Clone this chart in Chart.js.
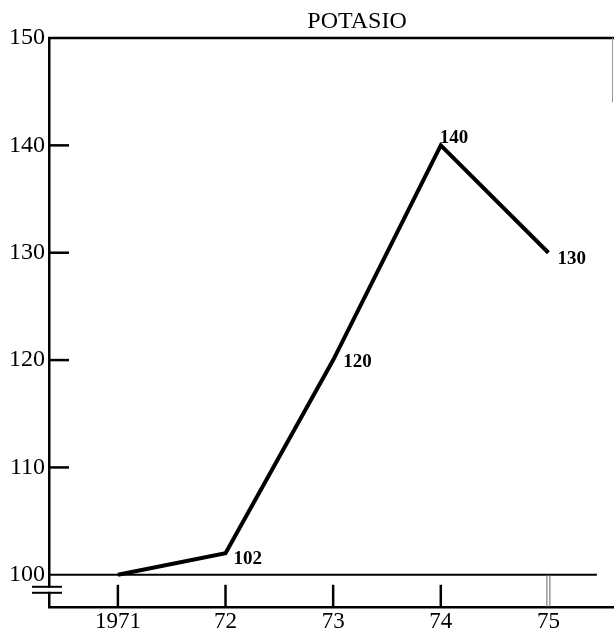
<!DOCTYPE html>
<html><head><meta charset="utf-8">
<script src="https://cdn.jsdelivr.net/npm/chart.js@4/dist/chart.umd.min.js"></script>
<style>html,body{margin:0;padding:0;background:#fff;}canvas{display:block;}</style>
</head><body>
<canvas id="c" width="614" height="634"></canvas>
<script>
const chartTitle = 'POTASIO';
const years = [1971, 1972, 1973, 1974, 1975];
const yearLabels = ['1971', '72', '73', '74', '75'];
const values = [100, 102, 120, 140, 130];
const showValueLabel = [false, true, true, true, true];
const yTickValues = [100, 110, 120, 130, 140, 150];

const SERIF = '"Liberation Serif", "Times New Roman", serif';
// label placement relative to each point (pixels)
const labelOffsets = [[0, 0], [8, 6], [10, 2], [-1, -7], [9, 6]];

function seg(ctx, x1, y1, x2, y2, w, col) {
  ctx.beginPath();
  ctx.lineWidth = w;
  ctx.strokeStyle = col || '#000';
  ctx.moveTo(x1, y1);
  ctx.lineTo(x2, y2);
  ctx.stroke();
}

const deco = {
  id: 'deco',
  beforeDatasetsDraw(chart) {
    const ctx = chart.ctx, a = chart.chartArea, xs = chart.scales.x, ys = chart.scales.y;
    ctx.save();
    ctx.lineCap = 'butt';
    seg(ctx, a.left - 1, a.top, a.right + 1, a.top, 2.5);
    seg(ctx, a.right - 0.5, a.top, a.right - 0.5, ys.getPixelForValue(144), 1, '#999');
    const y100 = ys.getPixelForValue(100);
    seg(ctx, a.left, y100, xs.getPixelForValue(1975.45), y100, 2);
    yTickValues.slice(1, -1).forEach(v => {
      const py = ys.getPixelForValue(v);
      seg(ctx, a.left, py, a.left + 20, py, 2.5);
    });
    years.forEach((yr, i) => {
      const px = xs.getPixelForValue(yr);
      if (i < years.length - 1) {
        seg(ctx, px, y100 + 10, px, a.bottom, 2.5);
      } else {
        seg(ctx, px - 1.5, y100, px - 1.5, a.bottom, 1, '#666');
        seg(ctx, px + 1.5, y100, px + 1.5, a.bottom, 1, '#666');
      }
    });
    ctx.fillStyle = '#fff';
    ctx.fillRect(a.left - 3, y100 + 13, 6, 4);
    seg(ctx, a.left - 17, y100 + 12, a.left + 13, y100 + 12, 2);
    seg(ctx, a.left - 17, y100 + 18, a.left + 13, y100 + 18, 2);
    ctx.restore();
  },
  afterDatasetsDraw(chart) {
    const ctx = chart.ctx, a = chart.chartArea;
    const meta = chart.getDatasetMeta(0);
    ctx.save();
    ctx.fillStyle = '#000';
    ctx.font = 'bold 19px ' + SERIF;
    ctx.textAlign = 'left';
    ctx.textBaseline = 'middle';
    meta.data.forEach((pt, i) => {
      if (!showValueLabel[i]) return;
      ctx.fillText(String(values[i]), pt.x + labelOffsets[i][0], pt.y + labelOffsets[i][1]);
    });
    ctx.font = '24px ' + SERIF;
    ctx.textAlign = 'center';
    ctx.fillText(chartTitle, (a.left + a.right) / 2 + 26, 22);
    ctx.restore();
  }
};

new Chart(document.getElementById('c'), {
  type: 'line',
  data: {
    datasets: [{
      data: years.map((yr, i) => ({ x: yr, y: values[i] })),
      borderColor: '#000',
      borderWidth: 4,
      pointRadius: 0,
      tension: 0,
      fill: false
    }]
  },
  options: {
    responsive: false,
    animation: false,
    events: [],
    layout: { padding: { top: 38, right: 1, left: 0, bottom: 0 } },
    plugins: { legend: { display: false }, tooltip: { enabled: false }, title: { display: false } },
    scales: {
      x: {
        type: 'linear',
        min: 1970.36,
        max: 1975.6,
        afterBuildTicks: s => { s.ticks = years.map(v => ({ value: v })); },
        afterFit: s => { s.height = 27; },
        grid: { display: false, drawTicks: false },
        border: { display: true, color: '#000', width: 2.5 },
        ticks: {
          color: '#000',
          padding: 1,
          maxRotation: 0,
          autoSkip: false,
          font: { family: SERIF, size: 23 },
          callback: v => { const i = years.indexOf(v); return i >= 0 ? yearLabels[i] : ''; }
        }
      },
      y: {
        min: 97,
        max: 150,
        afterBuildTicks: s => { s.ticks = yTickValues.map(v => ({ value: v })); },
        afterFit: s => { s.width = 49; },
        grid: { display: false, drawTicks: false },
        border: { display: true, color: '#000', width: 2.5 },
        ticks: {
          color: '#000',
          padding: 4,
          font: { family: SERIF, size: 24 },
          callback: v => String(v)
        }
      }
    }
  },
  plugins: [deco]
});
</script>
</body></html>
